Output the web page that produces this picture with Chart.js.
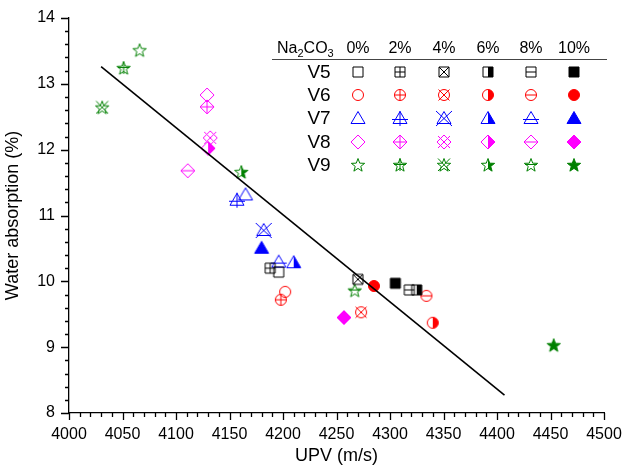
<!DOCTYPE html>
<html>
<head>
<meta charset="utf-8">
<script src="https://cdn.jsdelivr.net/npm/chart.js@4.4.1/dist/chart.umd.min.js"></script>
<style>
  html, body { margin: 0; padding: 0; background: #fff; }
  #wrap { width: 622px; height: 472px; }
</style>
</head>
<body>
<div id="wrap"><canvas id="absorptionChart" width="622" height="472"></canvas></div>
<script>
// Na2CO3 dosages (columns of the key) and mixes (rows of the key)
const dosages = ['0%', '2%', '4%', '6%', '8%', '10%'];
const mixes = ['V5', 'V6', 'V7', 'V8', 'V9'];

// UPV (m/s) and water absorption (%) per mix, in dosage order 0..10%
const upvV5 = [4196, 4188, 4270, 4325, 4318, 4305];
const wabV5 = [10.14, 10.20, 10.03, 9.87, 9.87, 9.97];
const upvV6 = [4202, 4198, 4273, 4340, 4334, 4285];
const wabV6 = [9.84, 9.72, 9.53, 9.37, 9.78, 9.93];
const upvV7 = [4165, 4157, 4182, 4210, 4196, 4180];
const wabV7 = [11.32, 11.24, 10.78, 10.29, 10.30, 10.51];
const upvV8 = [4129, 4129, 4132, 4130, 4111, 4257];
const wabV8 = [12.83, 12.65, 12.18, 12.02, 11.68, 9.45];
const upvV9 = [4066, 4051, 4031, 4161, 4267, 4453];
const wabV9 = [13.51, 13.24, 12.64, 11.66, 9.86, 9.03];

// linear fit end points
const fitUpv = [4030, 4407];
const fitWab = [13.26, 8.27];

const xTicks = [4000, 4050, 4100, 4150, 4200, 4250, 4300, 4350, 4400, 4450, 4500];
const yTicks = [8, 9, 10, 11, 12, 13, 14];

const mixColors = ['#000000', '#ff0000', '#0000ff', '#ff00ff', '#008000'];
const mixShapes = ['square', 'circle', 'triangle', 'diamond', 'star'];
const variants = ['open', 'plus', 'cross', 'half', 'minus', 'filled'];

// bounding boxes used for the plus / cross / minus strokes
const BOX = {
    square: { l: -5, t: -5, r: 5, b: 5, cy: 0 },
    circle: { l: -5.5, t: -5.5, r: 5.5, b: 5.5, cy: 0 },
    triangle: { l: -8, t: -7, r: 8, b: 8, cy: 1.5 },
    diamond: { l: -6, t: -6, r: 6, b: 6, cy: 0 },
    star: { l: -6, t: -6.5, r: 6, b: 6, cy: -0.5 },
};

const shapePath = (g, shape) => {
    if (shape === 'square') {
        g.rect(-5, -5, 10, 10);
    } else if (shape === 'circle') {
        g.arc(0, 0, 5.5, 0, Math.PI * 2);
    } else if (shape === 'triangle') {
        g.moveTo(0, -6.5); g.lineTo(7, 5.5); g.lineTo(-7, 5.5);
    } else if (shape === 'diamond') {
        g.moveTo(0, -7); g.lineTo(7, 0); g.lineTo(0, 7); g.lineTo(-7, 0);
    } else {
        for (let i = 0; i < 10; i++) {
            const r = i % 2 === 0 ? 7 : 2.9;
            const a = -Math.PI / 2 + i * Math.PI / 5;
            const px = r * Math.cos(a), py = r * Math.sin(a) + 0.5;
            if (i === 0) g.moveTo(px, py); else g.lineTo(px, py);
        }
    }
};

const makeMarker = (shape, color, variant) => {
    const c = document.createElement('canvas');
    c.width = 22;
    c.height = 22;
    const g = c.getContext('2d');
    g.translate(11, 11);
    g.strokeStyle = color;
    g.fillStyle = color;
    g.lineWidth = 1;
    const path = () => { g.beginPath(); shapePath(g, shape); g.closePath(); };
    if (variant === 'filled') { path(); g.fill(); }
    if (variant === 'half') {
        g.save();
        g.beginPath(); g.rect(0, -11, 11, 22); g.clip();
        path(); g.fill();
        g.restore();
    }
    path();
    g.stroke();
    const b = BOX[shape];
    g.beginPath();
    if (variant === 'plus') {
        g.moveTo(0, b.t); g.lineTo(0, b.b);
        g.moveTo(b.l, b.cy); g.lineTo(b.r, b.cy);
    }
    if (variant === 'cross') {
        g.moveTo(b.l, b.t); g.lineTo(b.r, b.b);
        g.moveTo(b.r, b.t); g.lineTo(b.l, b.b);
    }
    if (variant === 'minus') {
        g.moveTo(b.l, b.cy); g.lineTo(b.r, b.cy);
    }
    g.stroke();
    return c;
};

const markers = mixShapes.map((s, i) => variants.map(v => makeMarker(s, mixColors[i], v)));

const upvAll = [upvV5, upvV6, upvV7, upvV8, upvV9];
const wabAll = [wabV5, wabV6, wabV7, wabV8, wabV9];

const datasets = mixes.map((m, i) => ({
    label: m,
    data: upvAll[i].map((x, j) => ({ x: x, y: wabAll[i][j] })),
    pointStyle: markers[i],
    pointRadius: 7,
    showLine: false,
}));
datasets.unshift({
    label: 'fit',
    data: fitUpv.map((x, j) => ({ x: x, y: fitWab[j] })),
    showLine: true,
    borderColor: '#000',
    borderWidth: 1.6,
    pointRadius: 0,
});

// major / minor tick marks drawn outside the axes
const tickPlugin = {
    id: 'tickMarks',
    afterDraw(chart) {
        const ctx = chart.ctx;
        const xs = chart.scales.x, ys = chart.scales.y;
        const area = chart.chartArea;
        ctx.save();
        ctx.strokeStyle = '#000';
        ctx.lineWidth = 1.3;
        ctx.beginPath();
        for (let v = 4000; v <= 4500; v += 10) {
            const px = Math.round(xs.getPixelForValue(v)) + 0.5;
            const len = v % 50 === 0 ? 7 : 4;
            ctx.moveTo(px, area.bottom); ctx.lineTo(px, area.bottom + len);
        }
        for (let k = 0; k <= 30; k++) {
            const v = 8 + k * 0.2;
            const py = Math.round(ys.getPixelForValue(v)) + 0.5;
            const len = k % 5 === 0 ? 8 : 4;
            ctx.moveTo(area.left, py); ctx.lineTo(area.left - len, py);
        }
        ctx.stroke();
        ctx.restore();
    },
};

// the Na2CO3 key table in the upper right
const keyPlugin = {
    id: 'keyTable',
    afterDraw(chart) {
        const ctx = chart.ctx;
        const colX = [358, 400, 444, 488, 531, 574];
        const rowY = [72, 95, 118, 142, 165];
        ctx.save();
        ctx.fillStyle = '#000';
        ctx.textBaseline = 'alphabetic';
        ctx.textAlign = 'left';
        let x = 277;
        const base = 53;
        const parts = [['Na', 16, 0], ['2', 11, 4], ['CO', 16, 0], ['3', 11, 4]];
        parts.forEach(([t, size, dy]) => {
            ctx.font = size + 'px "Liberation Sans", Arial, sans-serif';
            ctx.fillText(t, x, base + dy);
            x += ctx.measureText(t).width;
        });
        ctx.font = '16px "Liberation Sans", Arial, sans-serif';
        ctx.textAlign = 'center';
        dosages.forEach((d, j) => ctx.fillText(d, colX[j], base));
        ctx.strokeStyle = '#444';
        ctx.lineWidth = 1;
        ctx.beginPath();
        ctx.moveTo(272, 59.5); ctx.lineTo(607, 59.5);
        ctx.stroke();
        ctx.font = '19px "Liberation Sans", Arial, sans-serif';
        ctx.textBaseline = 'middle';
        mixes.forEach((m, i) => {
            ctx.fillText(m, 319, rowY[i] + 1);
            markers[i].forEach((img, j) => ctx.drawImage(img, colX[j] - 11, rowY[i] - 11));
        });
        ctx.restore();
    },
};

const ctx = document.getElementById('absorptionChart').getContext('2d');
const absorptionChart = new Chart(ctx, {
    type: 'scatter',
    data: { datasets: datasets },
    options: {
        responsive: false,
        animation: false,
        layout: { padding: { top: 18, right: 18, left: 0, bottom: 0 } },
        plugins: {
            legend: { display: false },
            tooltip: { enabled: false },
        },
        scales: {
            x: {
                type: 'linear',
                min: 4000,
                max: 4500,
                afterBuildTicks: (scale) => { scale.ticks = xTicks.map(v => ({ value: v })); },
                afterFit: (scale) => {
                    scale.height = 59;
                    scale.paddingLeft = 0;
                    scale.paddingRight = 0;
                },
                grid: { display: false, drawTicks: false },
                border: { display: true, color: '#000', width: 1.3 },
                ticks: {
                    color: '#000',
                    padding: 12,
                    maxRotation: 0,
                    autoSkip: false,
                    callback: (v) => String(v),
                    font: { family: '"Liberation Sans", Arial, sans-serif', size: 16 },
                },
                title: {
                    display: true,
                    text: 'UPV (m/s)',
                    color: '#000',
                    padding: { top: 0, bottom: 5 },
                    font: { family: '"Liberation Sans", Arial, sans-serif', size: 18 },
                },
            },
            y: {
                type: 'linear',
                min: 8,
                max: 14,
                afterBuildTicks: (scale) => { scale.ticks = yTicks.map(v => ({ value: v })); },
                afterFit: (scale) => {
                    scale.width = 69;
                    scale.paddingTop = 0;
                    scale.paddingBottom = 0;
                },
                grid: { display: false, drawTicks: false },
                border: { display: true, color: '#000', width: 1.3 },
                ticks: {
                    color: '#000',
                    padding: 14,
                    callback: (v) => String(v),
                    font: { family: '"Liberation Sans", Arial, sans-serif', size: 16 },
                },
                title: {
                    display: true,
                    text: 'Water absorption (%)',
                    color: '#000',
                    padding: { top: 2, bottom: 0 },
                    font: { family: '"Liberation Sans", Arial, sans-serif', size: 18 },
                },
            },
        },
    },
    plugins: [tickPlugin, keyPlugin],
});
</script>
</body>
</html>
